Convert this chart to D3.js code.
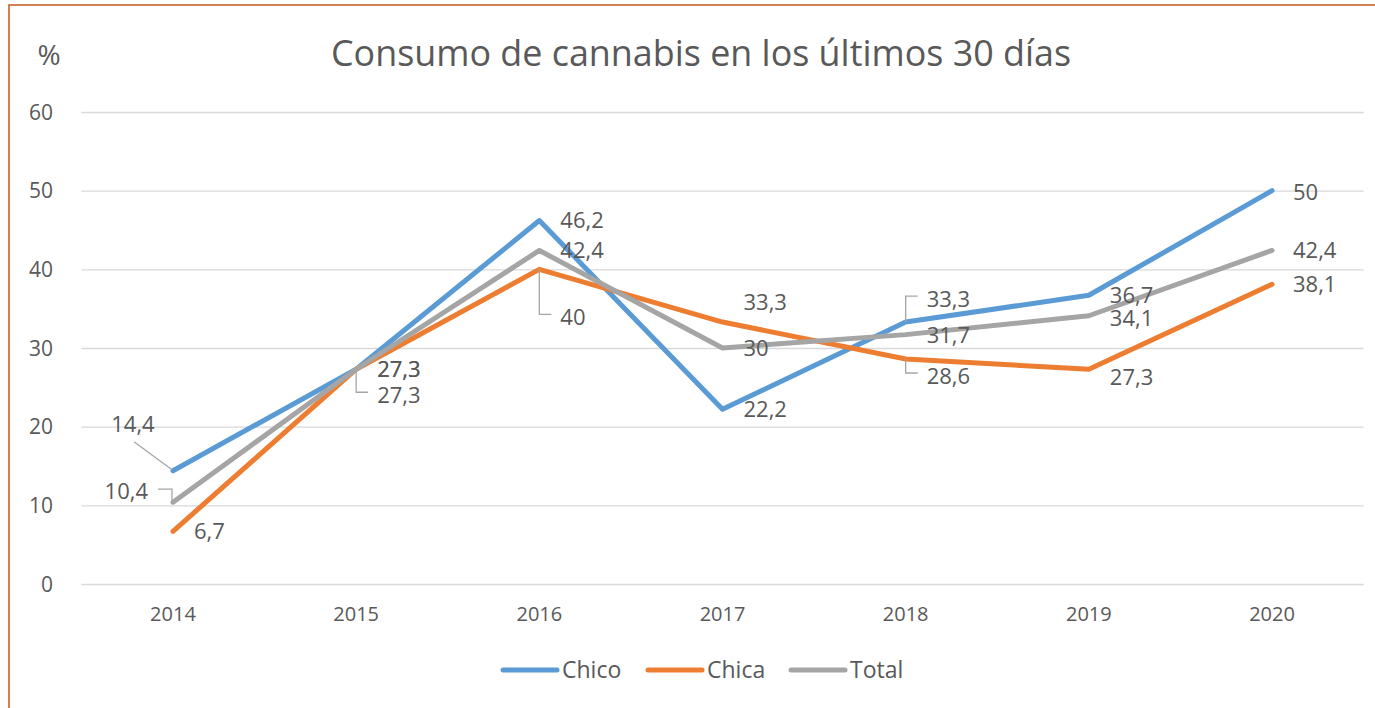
<!DOCTYPE html>
<html>
<head>
  <meta charset="utf-8">
  <title>Consumo de cannabis</title>
  <script src="https://d3js.org/d3.v7.min.js"></script>
  <style>
    body { margin: 0; background: #fff; }
    text { font-family: 'Open Sans', sans-serif; fill: #595959; }
    .grid line { stroke: #d9d9d9; stroke-width: 1.3px; }
    .grid path { display: none; }
  </style>
</head>
<body>
  <div id="chart"></div>
  <script>
    // data
    const years = ["2014", "2015", "2016", "2017", "2018", "2019", "2020"];
    const chico = [14.4, 27.3, 46.2, 22.2, 33.3, 36.7, 50];
    const chica = [6.7, 27.3, 40, 33.3, 28.6, 27.3, 38.1];
    const total = [10.4, 27.3, 42.4, 30, 31.7, 34.1, 42.4];
    const yTicks = [0, 10, 20, 30, 40, 50, 60];

    const series = [
      { name: "Chico", values: chico, color: "#5b9bd5" },
      { name: "Chica", values: chica, color: "#ed7d31" },
      { name: "Total", values: total, color: "#a5a5a5" }
    ];

    // label nudges (vertical px from the point) and leader type, per series
    const labelDy = {
      Chico: [-47, 0, 0, 0, -23, 0, 1],
      Chica: [0, 26, 48, -20, 17, 8, 0],
      Total: [-11, 0, 0, 0, 0, 2, 0]
    };
    const leaders = {
      Chico: ["diag", "", "", "", "elbow", "", ""],
      Chica: ["", "elbow", "elbow", "", "elbow", "", ""],
      Total: ["left", "", "", "", "", "", ""]
    };

    const W = 1375, H = 708;
    const svg = d3.select("#chart").append("svg")
      .attr("width", W).attr("height", H);

    svg.append("rect")
      .attr("x", 9).attr("y", 5)
      .attr("width", W).attr("height", H + 20)
      .attr("fill", "#fff")
      .attr("stroke", "#c9622a")
      .attr("stroke-width", 1.6);

    const left = 81.4, right = 1363.6;
    const x = d3.scalePoint().domain(years).range([left, right]).padding(0.5);
    const y = d3.scaleLinear().domain([0, 60]).range([584, 112]);

    // gridlines
    svg.append("g")
      .attr("class", "grid")
      .attr("transform", `translate(${left},0)`)
      .call(d3.axisRight(y).tickValues(yTicks).tickSize(right - left).tickFormat(""));

    // y tick labels
    svg.append("g").selectAll("text")
      .data(yTicks).join("text")
      .attr("x", 53).attr("y", d => y(d))
      .attr("dy", "0.36em")
      .attr("text-anchor", "end")
      .style("font-size", "21px")
      .text(d => d);

    // x tick labels
    svg.append("g").selectAll("text")
      .data(years).join("text")
      .attr("x", d => x(d)).attr("y", 614)
      .attr("dy", "0.36em")
      .attr("text-anchor", "middle")
      .style("font-size", "20px")
      .text(d => d);

    svg.append("text")
      .attr("x", 49).attr("y", 55).attr("dy", "0.36em")
      .attr("text-anchor", "middle")
      .style("font-size", "28px")
      .text("%");

    const title = svg.append("text")
      .attr("x", 701).attr("y", 66)
      .attr("text-anchor", "middle")
      .style("font-size", "34px")
      .text("Consumo de cannabis en los últimos 30 días");
    const tw = title.node().getComputedTextLength();
    title.style("font-size", (34 * 740 / tw) + "px");

    const line = d3.line()
      .x((d, i) => x(years[i]))
      .y(d => y(d));

    svg.append("g").selectAll("path")
      .data(series).join("path")
      .attr("d", s => line(s.values))
      .attr("fill", "none")
      .attr("stroke", s => s.color)
      .attr("stroke-width", 5)
      .attr("stroke-linejoin", "round")
      .attr("stroke-linecap", "round");

    // data labels
    const fmt = v => String(v).replace(".", ",");
    const lab = svg.append("g");
    series.forEach(s => {
      s.values.forEach((v, i) => {
        const px = x(years[i]), py = y(v);
        const ly = py + labelDy[s.name][i];
        const kind = leaders[s.name][i];
        let anchor = "start", lx = px + 21;
        if (kind === "diag") { anchor = "middle"; lx = px - 40; }
        if (kind === "left") { anchor = "end"; lx = px - 25; }

        if (kind === "elbow") {
          lab.append("path")
            .attr("d", `M${px},${py}V${ly - 3}H${lx - 9}`)
            .attr("fill", "none").attr("stroke", "#a6a6a6").attr("stroke-width", 1.3);
        } else if (kind === "left") {
          lab.append("path")
            .attr("d", `M${px - 1},${py}V${ly - 2}H${lx + 10}`)
            .attr("fill", "none").attr("stroke", "#a6a6a6").attr("stroke-width", 1.3);
        } else if (kind === "diag") {
          lab.append("path")
            .attr("d", `M${px - 1},${py - 1}L${lx + 1},${ly + 18}`)
            .attr("fill", "none").attr("stroke", "#a6a6a6").attr("stroke-width", 1.3);
        }

        lab.append("text")
          .attr("x", lx).attr("y", ly)
          .attr("dy", "0.36em")
          .attr("text-anchor", anchor)
          .style("font-size", "22px")
          .text(fmt(v));
      });
    });

    // legend
    const legendX = [503, 648, 791];
    const leg = svg.append("g").selectAll("g")
      .data(series).join("g")
      .attr("transform", (d, i) => `translate(${legendX[i]},670)`);
    leg.append("line")
      .attr("x1", 0).attr("x2", 54)
      .attr("stroke", d => d.color)
      .attr("stroke-width", 5)
      .attr("stroke-linecap", "round");
    leg.append("text")
      .attr("x", 59).attr("dy", "0.36em")
      .style("font-size", "23px")
      .text(d => d.name);
  </script>
</body>
</html>
